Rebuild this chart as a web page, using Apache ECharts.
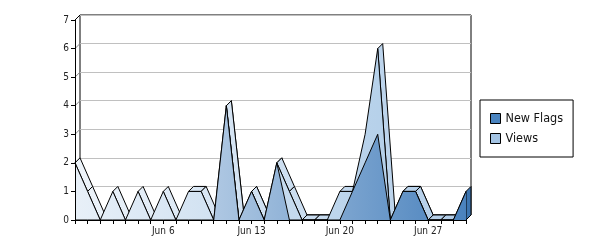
<!DOCTYPE html>
<html><head><meta charset="utf-8">
<script src="https://cdn.jsdelivr.net/npm/echarts@6/dist/echarts.min.js"></script>
<style>html,body{margin:0;padding:0;background:#fff}#c{width:600px;height:240px}</style>
</head><body><div id="c"></div>
<script>
const categories = ['May 30','May 31','Jun 1','Jun 2','Jun 3','Jun 4','Jun 5','Jun 6','Jun 7','Jun 8','Jun 9','Jun 10','Jun 11','Jun 12','Jun 13','Jun 14','Jun 15','Jun 16','Jun 17','Jun 18','Jun 19','Jun 20','Jun 21','Jun 22','Jun 23','Jun 24','Jun 25','Jun 26','Jun 27','Jun 28','Jun 29','Jun 30'];
const tickLabels = ['Jun 6','Jun 13','Jun 20','Jun 27'];
const yTicks = [0,1,2,3,4,5,6,7];
const newFlags = [0,0,0,0,0,0,0,0,0,0,0,0,4,0,1,0,2,0,0,0,0,0,1,2,3,0,1,1,0,0,0,1];
const views    = [2,1,0,1,0,1,0,1,0,1,1,0,4,0,1,0,2,1,0,0,0,1,1,3,6,0,1,1,0,0,0,1];

const FONT = '"DejaVu Sans Condensed", "DejaVu Sans", sans-serif';
const DX = 5, DY = -5;
const GX0 = 75, GX1 = 466;
function hgrad(c0, c1) {
  return {type:'linear', x:GX0, y:0, x2:GX1, y2:0, global:true,
    colorStops:[{offset:0,color:c0},{offset:1,color:c1}]};
}

// segment items: [i, v_i, v_{i+1}, kind] kind 0 = ribbon, 1 = end cap
function buildSegments(vals, coverCap) {
  const out = [];
  for (let i = 0; i < vals.length - 1; i++) out.push([i, vals[i], vals[i+1], 0]);
  const n = vals.length - 1;
  if (!(coverCap && coverCap[n] >= vals[n])) out.push([n, vals[n], 0, 1]);
  return out;
}

function ribbonRenderer(fill, capFill) {
  return function (params, api) {
    const i = api.value(0), a = api.value(1), b = api.value(2), kind = api.value(3);
    const p1 = api.coord([i, a]);
    if (kind === 1) {
      if (a <= 0) return null;
      const p0 = api.coord([i, 0]);
      return {type:'polygon', shape:{points:[p1, p0, [p0[0]+DX, p0[1]+DY], [p1[0]+DX, p1[1]+DY]]},
        style:{fill: capFill, stroke:'#000', lineWidth:1}};
    }
    const p2 = api.coord([i + 1, b]);
    const cross = (p2[0]-p1[0])*DY - (p2[1]-p1[1])*DX;
    if (cross >= 0) return null;
    return {type:'polygon', shape:{points:[p1, p2, [p2[0]+DX, p2[1]+DY], [p1[0]+DX, p1[1]+DY]]},
      style:{fill: fill, stroke:'#000', lineWidth:1}};
  };
}

const chart = echarts.init(document.getElementById('c'), null, {renderer:'canvas'});
chart.setOption({
  animation: false,
  backgroundColor: '#fff',
  grid: [
    {left: 75, top: 20, width: 391, height: 200, containLabel: false},
    {left: 80, top: 15, width: 391, height: 200, show: true, borderColor: '#000', borderWidth: 1, backgroundColor: 'transparent', z: 0}
  ],
  legend: {
    orient: 'vertical', left: 480, top: 100,
    padding: [11, 10, 11, 10], itemGap: 5, itemWidth: 10, itemHeight: 10,
    borderColor: '#000', borderWidth: 1, borderRadius: 0, selectedMode: false, icon: 'rect',
    textStyle: {fontFamily: FONT, fontSize: 12.5, color: '#111', lineHeight: 15},
    data: [
      {name: 'New Flags', itemStyle: {color: '#4a84c0', borderColor: '#000', borderWidth: 1}},
      {name: 'Views', itemStyle: {color: '#a4c4e4', borderColor: '#000', borderWidth: 1}}
    ]
  },
  xAxis: [
    {gridIndex: 0, type: 'category', data: categories, boundaryGap: false, z: 10,
      axisLine: {show: true, lineStyle: {color: '#000', width: 1}},
      axisTick: {show: true, interval: 0, length: 4, lineStyle: {color: '#000'}},
      axisLabel: {interval: 0, margin: 6, fontFamily: FONT, fontSize: 10, color: '#222',
        formatter: v => tickLabels.includes(v) ? v : ''},
      splitLine: {show: false}},
    {gridIndex: 1, type: 'category', data: categories, boundaryGap: false, show: false}
  ],
  yAxis: [
    {gridIndex: 0, type: 'value', min: 0, max: 7, interval: 1, z: 10,
      axisLine: {show: true, lineStyle: {color: '#000', width: 1}},
      axisTick: {show: true, length: 4, lineStyle: {color: '#000'}},
      axisLabel: {margin: 6, fontFamily: FONT, fontSize: 10, color: '#222'},
      splitLine: {show: false}},
    {gridIndex: 1, type: 'value', min: 0, max: 7, interval: 1,
      axisLine: {show: false}, axisTick: {show: false}, axisLabel: {show: false},
      splitLine: {show: true, lineStyle: {color: '#c0c0c0', width: 1}}}
  ],
  series: [
    { // left side wall edges
      type: 'custom', name: 'wall', xAxisIndex: 0, yAxisIndex: 0, z: 1, silent: true,
      data: yTicks.map(v => [0, v]),
      renderItem: function (params, api) {
        const v = api.value(1);
        const p = api.coord([0, v]);
        return {type: 'line', shape: {x1: p[0], y1: p[1], x2: p[0]+DX, y2: p[1]+DY},
          style: {stroke: v === 7 ? '#000' : '#888', lineWidth: 1}};
      }
    },
    {
      type: 'custom', name: 'NewFlags3d', xAxisIndex: 0, yAxisIndex: 0, z: 2, silent: true,
      data: buildSegments(newFlags, null),
      renderItem: ribbonRenderer(hgrad('#e4eef8', '#9cc0e4'), '#3d75b0')
    },
    {
      type: 'custom', name: 'Views3d', xAxisIndex: 0, yAxisIndex: 0, z: 3, silent: true,
      data: buildSegments(views, newFlags),
      renderItem: ribbonRenderer(hgrad('#eef4fa', '#b0cce8'), '#8fb4dc')
    },
    {
      type: 'line', name: 'Views', xAxisIndex: 0, yAxisIndex: 0, z: 4, silent: true,
      data: views, symbol: 'none', showSymbol: false,
      itemStyle: {color: '#a4c4e4'},
      lineStyle: {color: '#000', width: 1},
      areaStyle: {color: hgrad('#e8f0f8', '#a8c8e6'), opacity: 1}
    },
    {
      type: 'line', name: 'New Flags', xAxisIndex: 0, yAxisIndex: 0, z: 5, silent: true,
      data: newFlags, symbol: 'none', showSymbol: false,
      itemStyle: {color: '#4a84c0'},
      lineStyle: {color: '#000', width: 1},
      areaStyle: {color: hgrad('#e6eef7', '#4a82bd'), opacity: 1}
    }
  ]
});
</script></body></html>
